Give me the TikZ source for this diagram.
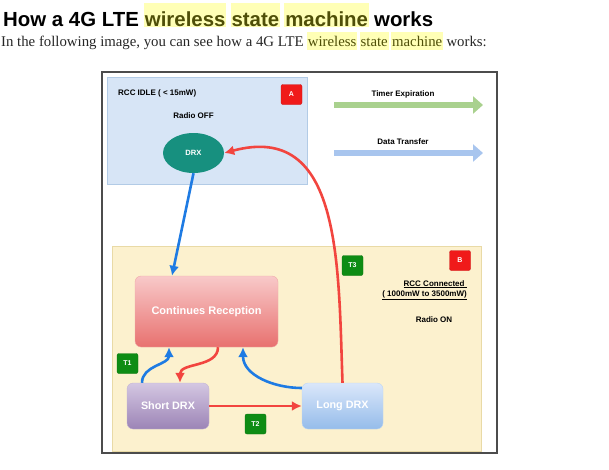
\documentclass[tikz,border=0pt]{standalone}
\usepackage{fontspec}
\setmainfont{Liberation Sans}
\newfontfamily\subfont{Liberation Serif}
\usepackage{xcolor}
\usetikzlibrary{positioning,shapes.geometric,arrows.meta}

\definecolor{hilite}{HTML}{FFFFB6}
\definecolor{hltext}{HTML}{4F4F08}
\definecolor{idlebg}{HTML}{D7E5F6}
\definecolor{idleln}{HTML}{B2CBE6}
\definecolor{connbg}{HTML}{FCF1CE}
\definecolor{connln}{HTML}{E9DAA6}
\definecolor{drxteal}{HTML}{17907F}
\definecolor{badgered}{HTML}{F01A1A}
\definecolor{badgegreen}{HTML}{0E8C14}
\definecolor{flowblue}{HTML}{1E7BE3}
\definecolor{flowred}{HTML}{F2453F}
\definecolor{timergreen}{HTML}{A9D18E}
\definecolor{datablue}{HTML}{A8C5EE}
\definecolor{crtop}{HTML}{F8C9C9}
\definecolor{crbot}{HTML}{E8716F}
\definecolor{shtop}{HTML}{D4C7E2}
\definecolor{shbot}{HTML}{9C84B6}
\definecolor{lgtop}{HTML}{DAE7FA}
\definecolor{lgbot}{HTML}{95BCEA}

\begin{document}
\begin{tikzpicture}[x=1pt,y=-1pt,
  plain/.style={inner xsep=1pt,inner ysep=0pt},
  hl/.style={plain,fill=hilite,text=hltext},
  lbl/.style={font=\bfseries\fontsize{8}{9}\selectfont,inner sep=0pt},
  badge/.style={rounded corners=2pt,minimum width=21pt,minimum height=20pt,inner sep=0pt,
    text=white,font=\bfseries\fontsize{7}{8}\selectfont},
  stbox/.style={rounded corners=6pt,inner sep=0pt,text=white,
    font=\bfseries\fontsize{10.8}{12}\selectfont},
  flow/.style={line width=2.6pt,-{Latex[length=10pt,width=10pt]}},
  fat/.style={line width=6pt,-{Triangle[length=10pt,width=17pt]}}]
  \useasboundingbox (0,0) rectangle (609,469);
  % heading
  \begin{scope}[font=\bfseries\fontsize{20.4}{24}\selectfont,node distance=3.7pt,
      every node/.append style={text height=23pt,text depth=1pt}]
    \node[plain,anchor=base west] (t1) at (2,26) {How a 4G LTE};
    \node[hl,base right=of t1] (t2) {wireless};
    \node[hl,base right=of t2] (t3) {state};
    \node[hl,base right=of t3] (t4) {machine};
    \node[plain,base right=of t4] (t5) {works};
  \end{scope}
  \begin{scope}[font=\subfont\fontsize{14.8}{17}\selectfont,node distance=1.9pt,text=black!85,
      every node/.append style={text height=14.7pt,text depth=3.3pt,inner xsep=0.8pt}]
    \node[plain,anchor=base west] (s1) at (0,46.7) {In the following image, you can see how a 4G LTE};
    \node[hl,base right=of s1] (s2) {wireless};
    \node[hl,base right=of s2] (s3) {state};
    \node[hl,base right=of s3] (s4) {machine};
    \node[plain,base right=of s4] (s5) {works:};
  \end{scope}

  \draw[black!70,line width=1.2pt] (102,72) rectangle (497,453);
  \draw[fill=idlebg,draw=idleln] (107,77) rectangle (307,184);
  \draw[fill=connbg,draw=connln] (112,246) rectangle (481,451);

  % idle state
  \node[lbl,anchor=west] (idle) at (118,93) {RCC IDLE ( < 15mW)};
  \node[lbl] (off) at (193.5,116) {Radio OFF};
  \node[ellipse,fill=drxteal,minimum width=61pt,minimum height=40pt,inner sep=0pt,
    text=white,font=\bfseries\fontsize{7.6}{9}\selectfont] (drx) at (193.5,153) {DRX};

  % legend
  \foreach \n/\y/\c/\t in {tim/94/timergreen/Timer Expiration, dat/142/datablue/Data Transfer}{
    \node[lbl] (\n) at (403,\y) {\t};
    \coordinate (\n a) at (334,\y+11);
    \coordinate (\n b) at (483,\y+11);
    \draw[fat,\c] (\n a) -- (\n b);
  }

  % badges
  \foreach \n/\x/\y/\c/\t in {ba/291.5/94.5/badgered/A, bb/460/260.5/badgered/B,
      tone/127.5/363.5/badgegreen/T1, ttwo/255.5/424/badgegreen/T2, tthree/352.5/265.5/badgegreen/T3}
    \node[badge,fill=\c,draw=\c!85!black] (\n) at (\x,\y) {\t};

  % connected state
  \node[lbl,anchor=base east] (conn) at (467,286) {\underline{RCC Connected\ }};
  \node[lbl,anchor=base east] (range) at (467,296) {\underline{( 1000mW to 3500mW)}};
  \node[lbl] (on) at (434,320) {Radio ON};

  \node[stbox,top color=crtop,bottom color=crbot,draw=crbot!60,minimum width=143pt,minimum height=71pt,
    font=\bfseries\fontsize{11}{12}\selectfont] (cr) at (206.5,311.5) {Continues Reception};
  \node[stbox,top color=shtop,bottom color=shbot,draw=shbot!60,minimum width=82pt,minimum height=46pt]
    (sdrx) at (168,406) {Short DRX};
  \node[stbox,top color=lgtop,bottom color=lgbot,draw=lgbot!60,minimum width=81pt,minimum height=46pt]
    (ldrx) at (342.5,406) {Long DRX};

  % transitions
  \draw[flow,flowblue] (drx.south) -- ([xshift=-34.5pt]cr.north);
  \draw[flow,flowred] (ldrx.north) to[out=92,in=15,looseness=1.2] (drx.east);
  \draw[flow,flowblue] ([xshift=-26pt]sdrx.north) to[out=90,in=-90] ([xshift=-37.5pt]cr.south);
  \draw[flow,flowred] ([xshift=11.5pt]cr.south) to[out=-90,in=90] ([xshift=12pt]sdrx.north);
  \draw[flow,flowblue] ([yshift=18pt]ldrx.west) to[out=180,in=-90] ([xshift=36.5pt]cr.south);
  \draw[flow,flowred] (sdrx.east) -- (ldrx.west);
\end{tikzpicture}
\end{document}
